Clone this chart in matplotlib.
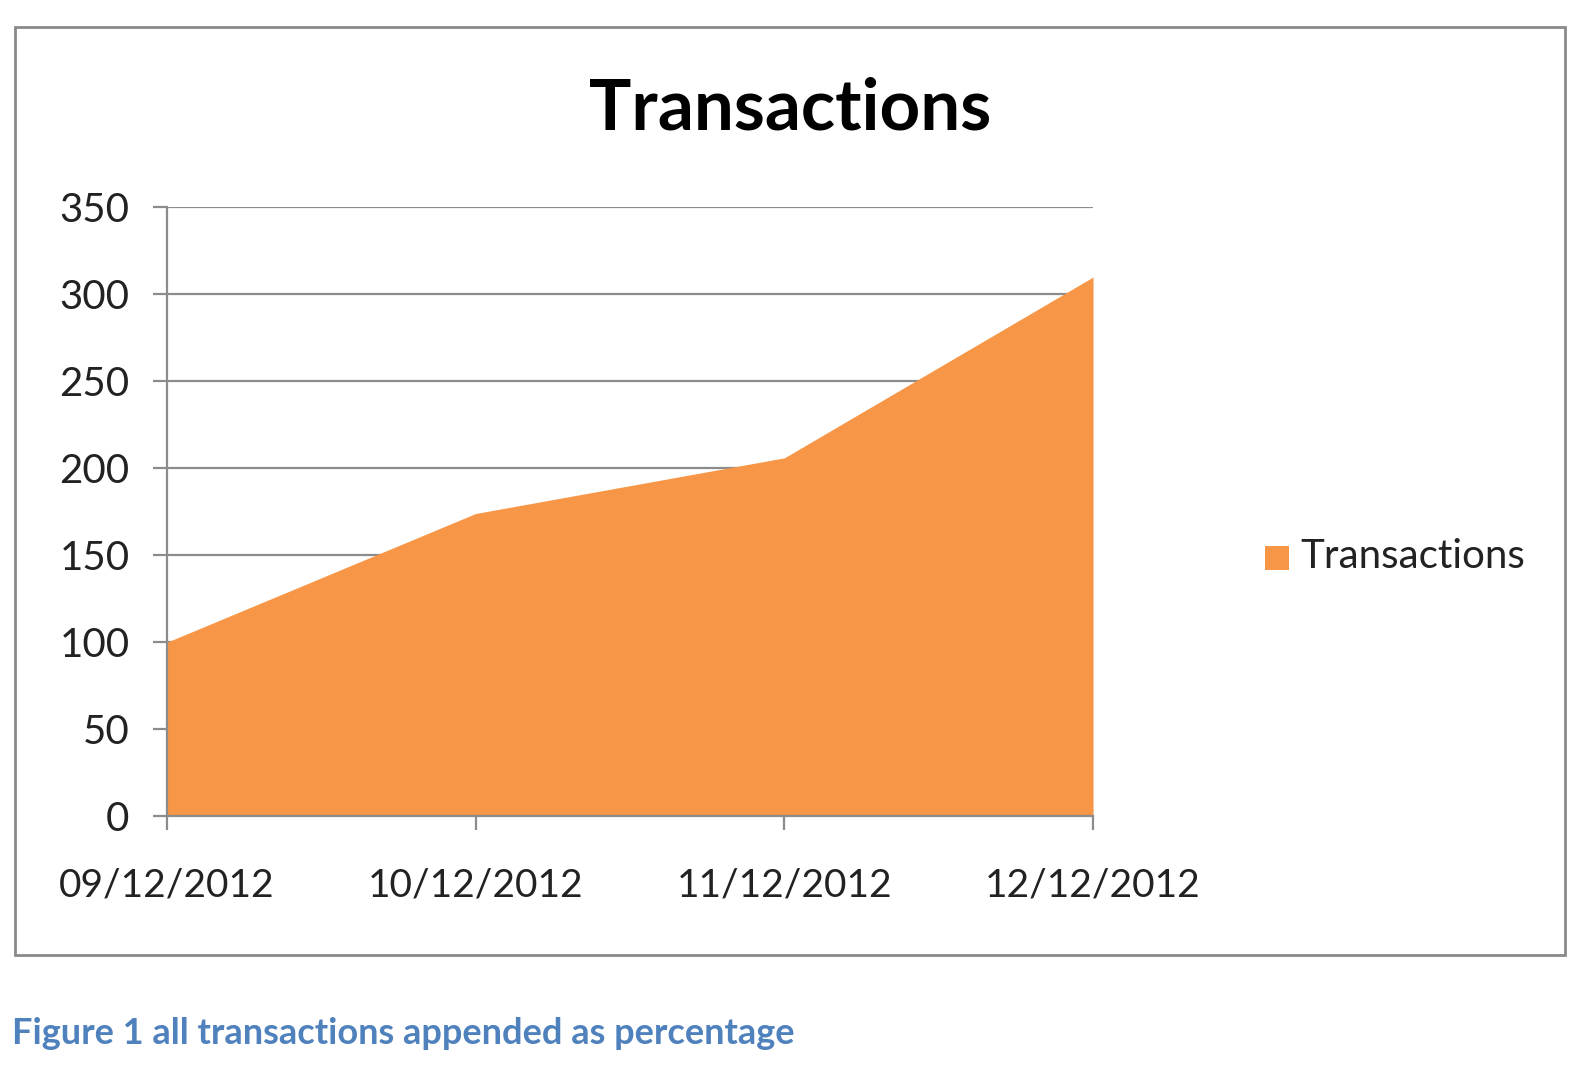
"""Area chart of daily transactions, framed like an Office chart."""

import matplotlib
matplotlib.use('Agg')
import matplotlib.pyplot as plt
from matplotlib.patches import Rectangle

dates = ['09/12/2012', '10/12/2012', '11/12/2012', '12/12/2012']
transactions = [100, 174, 206, 310]
y_ticks = [0, 50, 100, 150, 200, 250, 300, 350]

FILL = '#F79646'
GRID = '#8C8C8C'
FONT = ['Lato', 'DejaVu Sans']

plt.rcParams['font.family'] = FONT

fig = plt.figure(figsize=(15.8, 10.8), dpi=100)
fig.patch.set_facecolor('white')

# outer chart frame
fig.patches.append(Rectangle((15 / 1580, 1 - 955 / 1080), 1550 / 1580, 928 / 1080,
                             transform=fig.transFigure, fill=False,
                             edgecolor='#8A8A8A', linewidth=2))

ax = fig.add_axes([0.1057, 0.2444, 0.5861, 0.5635])
x = list(range(len(dates)))
ax.fill_between(x, transactions, 0, color=FILL, linewidth=0, zorder=2)
ax.set_xlim(0, len(dates) - 1)
ax.set_ylim(0, 350)
ax.set_yticks(y_ticks)
ax.set_xticks(x)
ax.set_xticklabels(dates)
ax.yaxis.grid(True, color=GRID, linewidth=1.6, zorder=1)
ax.set_axisbelow(True)
for side in ('top', 'right'):
    ax.spines[side].set_visible(False)
for side in ('left', 'bottom'):
    ax.spines[side].set_color(GRID)
    ax.spines[side].set_linewidth(1.6)
    ax.spines[side].set_zorder(3)
ax.tick_params(axis='y', length=10, width=1.6, color=GRID, labelsize=29,
               labelcolor='#222222', pad=17)
ax.tick_params(axis='x', length=10, width=1.6, color=GRID, labelsize=28,
               labelcolor='#222222', pad=27, direction='out')
for lbl in ax.get_xticklabels():
    lbl.set_clip_on(False)

fig.text(790 / 1580, 1 - 109 / 1080, 'Transactions', ha='center', va='center',
         fontsize=51, fontweight='bold', color='black')

# legend
fig.patches.append(Rectangle((1265 / 1580, 1 - 570 / 1080), 24 / 1580, 24 / 1080,
                             transform=fig.transFigure, facecolor=FILL,
                             edgecolor='none'))
fig.text(1300 / 1580, 1 - 557 / 1080, 'Transactions', ha='left', va='center',
         fontsize=29, color='#222222')

fig.text(12 / 1580, 1 - 1033 / 1080, 'Figure 1 all transactions appended as percentage',
         ha='left', va='center', fontsize=26, fontweight='bold', color='#4F81BD')

fig.savefig('out.png', dpi=100)
